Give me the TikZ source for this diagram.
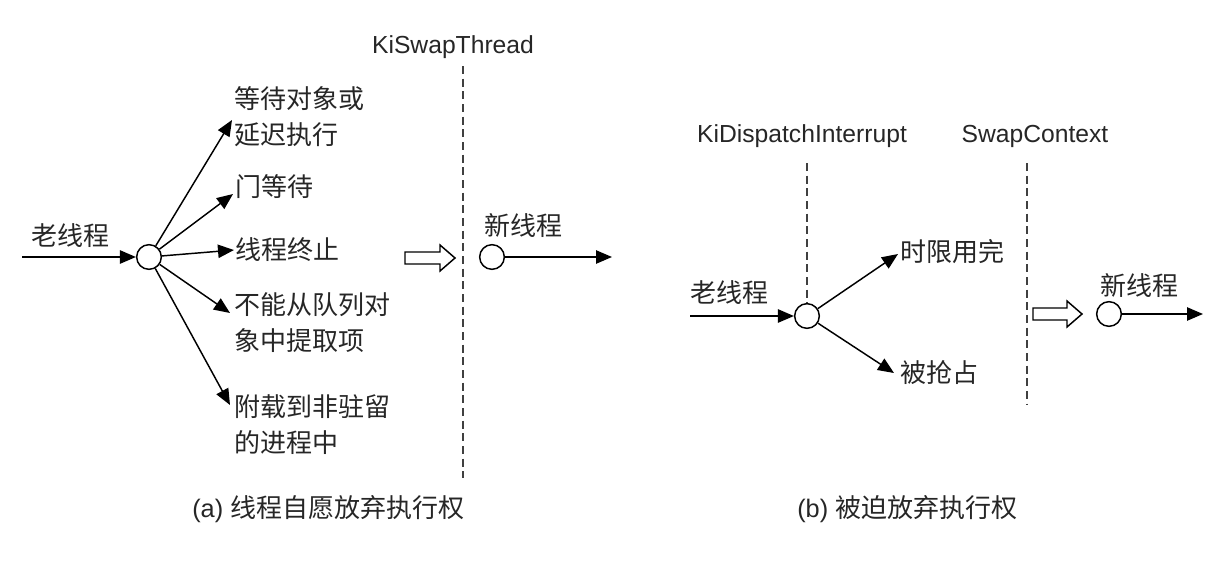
\documentclass[tikz,border=0pt]{standalone}
\usepackage{fontspec}
\setmainfont{Liberation Sans}
\newfontfamily\cjk{Noto Sans CJK SC}
\usetikzlibrary{arrows.meta}
\begin{document}
\begin{tikzpicture}[x=0.75pt,y=-0.75pt,
  lbl/.style={inner sep=0pt,font=\cjk\fontsize{19.5}{27.5}\selectfont,align=left,text=black!85},
  lat/.style={inner sep=0pt,font=\fontsize{18.5}{22}\selectfont,text=black!85},
  captext/.style={inner sep=0pt,font=\fontsize{19}{22}\selectfont,text=black!85},
  hub/.style={circle,draw,line width=1.1pt,minimum size=18.5pt,inner sep=0pt,fill=white},
  arr/.style={line width=1.1pt,-{Triangle[length=12pt,width=10pt]}},
  vdash/.style={line width=0.9pt,dash pattern=on 6pt off 3.5pt,black!75},
  hollow/.style={line width=1.1pt,draw}]
\useasboundingbox (0,0) rectangle (1221,568);

% ---------- (a) ----------
\node[lat] (kst) at (453,47) {KiSwapThread};
\coordinate (dA1) at (463,66);
\coordinate (dA2) at (463,478);
\draw[vdash] (dA1) -- (dA2);

\node[lbl,anchor=west] (oldA) at (31,236) {老线程};
\coordinate (inA) at (22,257);
\node[hub] (hA) at (149,257) {};
\draw[arr] (inA) -- (hA);

\node[lbl,anchor=north west] (t1) at (234,86) {等待对象或\\延迟执行};
\node[lbl,anchor=west] (t2) at (235,187) {门等待};
\node[lbl,anchor=west] (t3) at (235,250) {线程终止};
\node[lbl,anchor=north west] (t4) at (234,292) {不能从队列对\\象中提取项};
\node[lbl,anchor=north west] (t5) at (234,394) {附载到非驻留\\的进程中};

\coordinate (a1) at (232,120);
\coordinate (a2) at (233,194);
\coordinate (a3) at (234,250);
\coordinate (a4) at (230,313);
\coordinate (a5) at (230,405);
\draw[arr] (hA) -- (a1);
\draw[arr] (hA) -- (a2);
\draw[arr] (hA) -- (a3);
\draw[arr] (hA) -- (a4);
\draw[arr] (hA) -- (a5);

% hollow arrow (a)
\coordinate (hwA) at (405,258);
\draw[hollow] (hwA) ++(0,-6) -- ++(35,0) -- ++(0,-7) -- ++(15,13) -- ++(-15,13) -- ++(0,-7) -- ++(-35,0) -- cycle;

\node[lbl,anchor=west] (newA) at (484,226) {新线程};
\node[hub] (nA) at (492,257) {};
\coordinate (outA) at (612,257);
\draw[arr] (nA) -- (outA);

\node[captext,anchor=west] (capA) at (192,509) {(a) {\cjk\fontsize{19.5}{22}\selectfont 线程自愿放弃执行权}};

% ---------- (b) ----------
\node[lat] (kdi) at (802,136) {KiDispatchInterrupt};
\node[lat] (swc) at (1035,136) {SwapContext};

\node[hub] (hB) at (807,316) {};
\coordinate (dB1) at (807,163);
\draw[vdash] (dB1) -- (hB.north);
\coordinate (dC1) at (1027,163);
\coordinate (dC2) at (1027,404);
\draw[vdash] (dC1) -- (dC2);

\node[lbl,anchor=west] (oldB) at (690,293) {老线程};
\coordinate (inB) at (690,316);
\draw[arr] (inB) -- (hB);

\coordinate (b1) at (898,254);
\coordinate (b2) at (894,373);
\draw[arr] (hB) -- (b1);
\draw[arr] (hB) -- (b2);
\node[lbl,anchor=west] (tb1) at (900,252) {时限用完};
\node[lbl,anchor=west] (tb2) at (900,372) {被抢占};

% hollow arrow (b)
\coordinate (hwB) at (1033,314);
\draw[hollow] (hwB) ++(0,-6) -- ++(34,0) -- ++(0,-7) -- ++(15,13) -- ++(-15,13) -- ++(0,-7) -- ++(-34,0) -- cycle;

\node[lbl,anchor=west] (newB) at (1100,286) {新线程};
\node[hub] (nB) at (1109,314) {};
\coordinate (outB) at (1203,314);
\draw[arr] (nB) -- (outB);

\node[captext,anchor=west] (capB) at (797,509) {(b) {\cjk\fontsize{19.5}{22}\selectfont 被迫放弃执行权}};
\end{tikzpicture}
\end{document}
